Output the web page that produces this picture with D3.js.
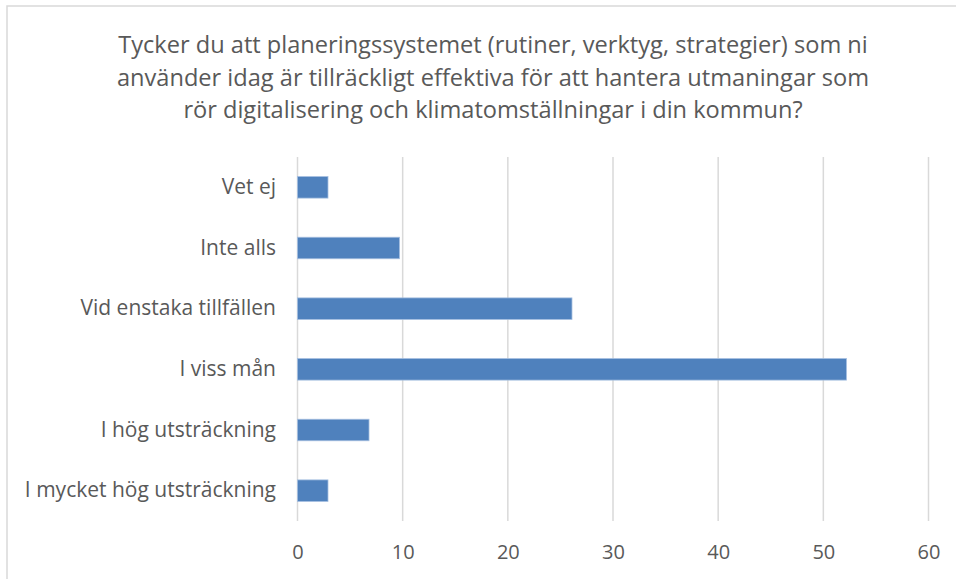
<!DOCTYPE html>
<html>
<head>
<meta charset="utf-8">
<script src="https://cdn.jsdelivr.net/npm/d3@7"></script>
<style>
  body { margin: 0; background: #fff; }
  text { font-family: "Open Sans", sans-serif; fill: #595959; }
</style>
</head>
<body>
<svg id="chart" width="956" height="579"></svg>
<script>
var titleLines = [
  "Tycker du att planeringssystemet (rutiner, verktyg, strategier) som ni",
  "använder idag är tillräckligt effektiva för att hantera utmaningar som",
  "rör digitalisering och klimatomställningar i din kommun?"
];
var categories = ["Vet ej", "Inte alls", "Vid enstaka tillfällen", "I viss mån", "I hög utsträckning", "I mycket hög utsträckning"];
var values = [2.9, 9.7, 26.1, 52.2, 6.8, 2.9];
var xTicks = [0, 10, 20, 30, 40, 50, 60];

var svg = d3.select("#chart");

// chart area border (right and bottom run off the picture)
svg.append("rect")
    .attr("x", 7).attr("y", 6)
    .attr("width", 1000).attr("height", 1000)
    .attr("fill", "none")
    .attr("stroke", "#d9d9d9")
    .attr("stroke-width", 1.5);

var x = d3.scaleLinear().domain([0, 60]).range([297.5, 928.5]);
var y = d3.scaleBand().domain(categories).range([157, 521])
    .paddingInner(0.645).paddingOuter(0.3225);

// title
svg.append("g").selectAll("text")
  .data(titleLines)
  .join("text")
    .attr("x", 493)
    .attr("y", function(d, i) { return 45 + i * 32.5; })
    .attr("dy", "0.35em")
    .attr("text-anchor", "middle")
    .style("font-size", "23.6px")
    .text(function(d) { return d; });

// gridlines
svg.append("g").selectAll("line")
  .data(xTicks)
  .join("line")
    .attr("x1", function(d) { return x(d); })
    .attr("x2", function(d) { return x(d); })
    .attr("y1", 157)
    .attr("y2", 521)
    .attr("stroke", "#d9d9d9")
    .attr("stroke-width", 1.5);

// x axis labels
var xAxis = svg.append("g")
    .attr("transform", "translate(0,521)")
    .call(d3.axisBottom(x).tickValues(xTicks).tickSize(0).tickPadding(0));
xAxis.select(".domain").remove();
xAxis.selectAll("text")
    .attr("y", 31)
    .attr("dy", "0.35em")
    .style("font-size", "20px")
    .attr("fill", "#595959");

// y axis labels
var yAxis = svg.append("g")
    .attr("transform", "translate(276,0)")
    .call(d3.axisLeft(y).tickSize(0).tickPadding(0));
yAxis.select(".domain").remove();
yAxis.selectAll("text")
    .style("font-size", "21px")
    .attr("fill", "#595959");

// bars
svg.append("g").selectAll("rect")
  .data(values)
  .join("rect")
    .attr("x", x(0))
    .attr("y", function(d, i) { return y(categories[i]); })
    .attr("width", function(d) { return x(d) - x(0); })
    .attr("height", y.bandwidth())
    .attr("fill", "#4f81bd")
    .attr("stroke", "#a5bfe0")
    .attr("stroke-width", 0.8);
</script>
</body>
</html>
